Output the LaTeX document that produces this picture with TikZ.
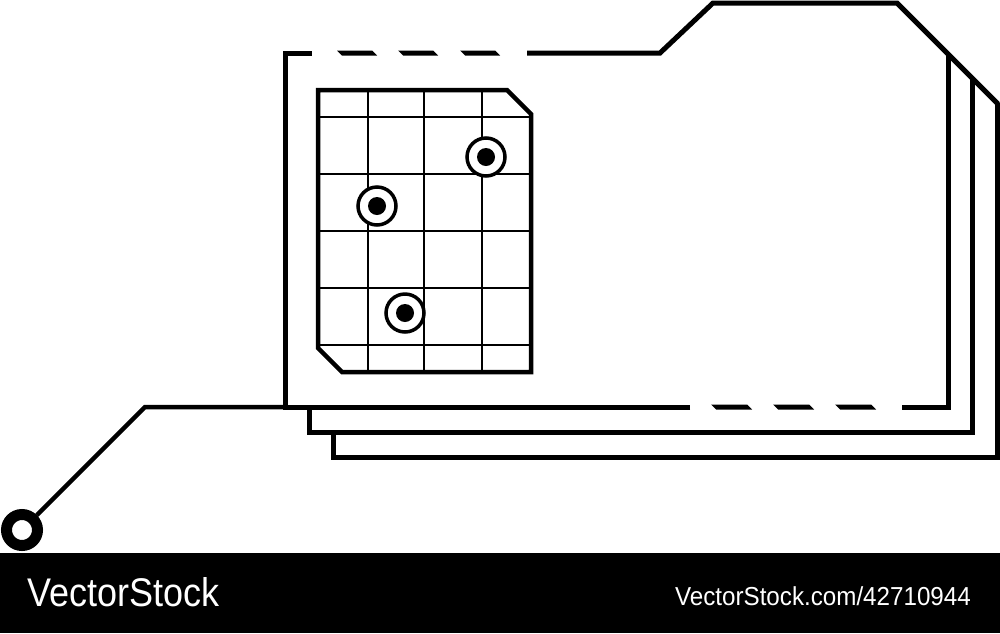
\documentclass[tikz,border=0pt]{standalone}
\usepackage{fontspec}
\setmainfont{Liberation Sans}
\begin{document}
\begin{tikzpicture}[x=1pt,y=-1pt,
  frame/.style={line width=5pt, line join=miter},
  conn/.style={line width=4.5pt, line join=miter},
  gridline/.style={line width=1.3pt},
  mapedge/.style={line width=4.5pt, line join=miter},
  dashbit/.style={fill=black},
  ringnode/.style={circle, draw, line width=11pt, minimum size=31pt, inner sep=0pt},
  target/.style={circle, draw, line width=3.5pt, minimum size=38pt, inner sep=0pt},
  dotnode/.style={circle, fill, minimum size=18pt, inner sep=0pt},
  wm/.style={text=white, inner sep=0pt}]
\fill[white] (0,0) rectangle (1000,633);
\useasboundingbox (0,0) rectangle (1000,633);
% back frames
\draw[frame] (333,434) -- (333,457) -- (997,457) -- (997,103);
\draw[frame] (309,409) -- (309,432) -- (972,432) -- (972,78);
% front frame
\draw[frame] (690,407) -- (285,407) -- (285,53) -- (312,53);
\draw[frame] (527,53) -- (660,53) -- (713,3) -- (897,3) -- (998,104);
\draw[frame] (948,54) -- (948,407) -- (902,407);
\foreach \a in {342,403,465}
  \fill[dashbit] (\a,55.5) -- ++(35,0) -- ++(-5,-5) -- ++(-35,0) -- cycle;
\foreach \a in {716,778,840}
  \fill[dashbit] (\a,409.5) -- ++(36,0) -- ++(-5,-5) -- ++(-36,0) -- cycle;
% connector
\node[ringnode] (ring) at (22,530) {};
\coordinate (elbow) at (145,407);
\coordinate (join) at (285,407);
\draw[conn] (ring) -- (elbow) -- (join);
% map
\foreach \x in {368,424,482} \draw[gridline] (\x,90) -- (\x,372);
\foreach \y in {117,174,231,288,345} \draw[gridline] (318,\y) -- (531,\y);
\draw[mapedge] (318,90) -- (507,90) -- (531,114) -- (531,372) -- (342,372) -- (318,348) -- cycle;
% targets
\node[target, fill=white] (t1) at (486,157) {};
\node[dotnode] (d1) at (486,157) {};
\node[target, fill=white] (t2) at (377,206) {};
\node[dotnode] (d2) at (377,206) {};
\node[target, fill=white] (t3) at (405,313) {};
\node[dotnode] (d3) at (405,313) {};
% banner
\fill[black] (0,553) rectangle (1000,633);
\node[wm, anchor=base west, font=\fontsize{40}{40}\selectfont] (logo) at (27,606) {\scalebox{0.9}[1]{VectorStock}};
\node[wm, anchor=base east, font=\fontsize{26}{26}\selectfont] (url) at (971,605) {\scalebox{0.93}[1]{VectorStock.com/42710944}};
\end{tikzpicture}
\end{document}
